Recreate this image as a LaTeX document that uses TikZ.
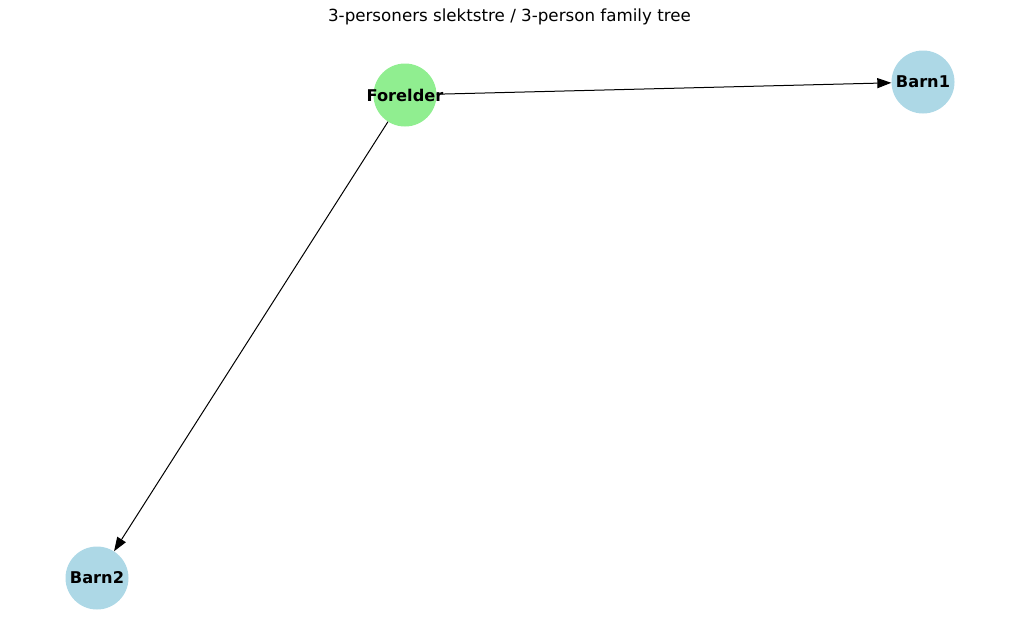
\documentclass[tikz,border=0pt]{standalone}
\usepackage{fontspec}
\setmainfont{DejaVu Sans}
\usetikzlibrary{arrows.meta}
\definecolor{lgreen}{HTML}{90EE90}
\definecolor{lblue}{HTML}{ADD8E6}
\begin{document}
\begin{tikzpicture}[x=1pt,y=-1pt,
  person/.style={circle,minimum size=63pt,inner sep=0pt},
  lbl/.style={font=\bfseries\fontsize{16.2}{18}\selectfont},
  edge/.style={draw=black,line width=1pt,-{Triangle[length=14pt,width=10pt]}}]
\useasboundingbox (0,0) rectangle (1019,640);
\node[font=\fontsize{16.7}{19}\selectfont] (title) at (509.5,17) {3-personers slektstre / 3-person family tree};
\node[person,fill=lgreen] (f) at (405,95) {};
\node[person,fill=lblue] (b1) at (923,82) {};
\node[person,fill=lblue] (b2) at (97,578) {};
\draw[edge] (f) -- (b1);
\draw[edge] (f) -- (b2);
\node[lbl] (fl) at (f) {Forelder};
\node[lbl] (b1l) at (b1) {Barn1};
\node[lbl] (b2l) at (b2) {Barn2};
\end{tikzpicture}
\end{document}
